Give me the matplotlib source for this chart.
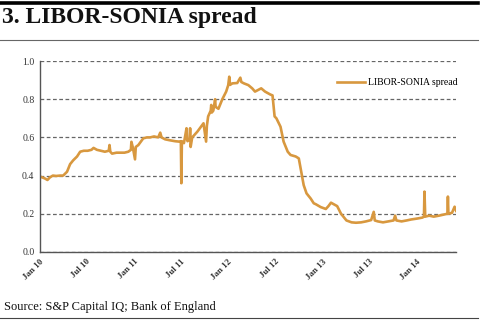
import matplotlib
matplotlib.use("Agg")
import matplotlib.pyplot as plt
from datetime import date

# LIBOR-SONIA spread, percentage points
dates = [
    "2010-01-01", "2010-01-10", "2010-01-20", "2010-01-30", "2010-02-08", "2010-02-20",
    "2010-03-05", "2010-03-20", "2010-04-01", "2010-04-16", "2010-04-28", "2010-05-10",
    "2010-05-25", "2010-06-06", "2010-06-20", "2010-07-05", "2010-07-20", "2010-07-28",
    "2010-08-10", "2010-08-25", "2010-09-10", "2010-09-25", "2010-09-28", "2010-10-01",
    "2010-10-08", "2010-10-25", "2010-11-10", "2010-11-25", "2010-12-10", "2010-12-20",
    "2010-12-22", "2010-12-28", "2011-01-05", "2011-01-08", "2011-01-18", "2011-02-06",
    "2011-02-20", "2011-03-05", "2011-03-20", "2011-04-05", "2011-04-13", "2011-04-18",
    "2011-05-02", "2011-05-20", "2011-06-10", "2011-06-25", "2011-07-02", "2011-07-04",
    "2011-07-06", "2011-07-14", "2011-07-24", "2011-07-26", "2011-07-28", "2011-08-05",
    "2011-08-07", "2011-08-09", "2011-08-15", "2011-09-04", "2011-09-28", "2011-10-08",
    "2011-10-11", "2011-10-16", "2011-10-26", "2011-10-28", "2011-10-30", "2011-11-05",
    "2011-11-12", "2011-11-14", "2011-11-25", "2011-12-10", "2011-12-25", "2012-01-02",
    "2012-01-06", "2012-01-09", "2012-01-18", "2012-02-06", "2012-02-18", "2012-02-22",
    "2012-03-03", "2012-03-20", "2012-04-04", "2012-04-15", "2012-05-09", "2012-05-24",
    "2012-06-13", "2012-06-22", "2012-06-30", "2012-07-07", "2012-07-23", "2012-08-04",
    "2012-08-20", "2012-08-31", "2012-09-20", "2012-10-02", "2012-10-09", "2012-10-21",
    "2012-11-01", "2012-11-17", "2012-11-29", "2012-12-07", "2012-12-26", "2013-01-15",
    "2013-01-25", "2013-02-04", "2013-02-15", "2013-02-28", "2013-03-15", "2013-04-05",
    "2013-04-25", "2013-05-12", "2013-06-01", "2013-06-20", "2013-07-10", "2013-07-20",
    "2013-07-24", "2013-08-05", "2013-08-25", "2013-09-15", "2013-10-05", "2013-10-11",
    "2013-10-16", "2013-11-05", "2013-11-25", "2013-12-12", "2014-01-05", "2014-01-25",
    "2014-01-31", "2014-02-02", "2014-02-05", "2014-02-20", "2014-03-10", "2014-03-30",
    "2014-04-15", "2014-05-02", "2014-05-04", "2014-05-06", "2014-05-20", "2014-05-30",
    "2014-06-05",
]
spread = [
    0.395, 0.390, 0.385, 0.377, 0.390, 0.400,
    0.398, 0.400, 0.400, 0.420, 0.460, 0.480,
    0.500, 0.525, 0.530, 0.530, 0.535, 0.545,
    0.535, 0.530, 0.525, 0.530, 0.560, 0.525,
    0.515, 0.520, 0.520, 0.520, 0.525, 0.535,
    0.577, 0.545, 0.485, 0.550, 0.560, 0.595,
    0.600, 0.600, 0.605, 0.600, 0.625, 0.600,
    0.590, 0.585, 0.580, 0.578, 0.580, 0.360,
    0.580, 0.570, 0.648, 0.590, 0.580, 0.590,
    0.648, 0.550, 0.600, 0.630, 0.674, 0.578,
    0.660, 0.710, 0.740, 0.770, 0.730, 0.740,
    0.800, 0.760, 0.750, 0.800, 0.840, 0.874,
    0.918, 0.875, 0.883, 0.885, 0.913, 0.890,
    0.883, 0.874, 0.857, 0.840, 0.857, 0.840,
    0.825, 0.820, 0.710, 0.700, 0.656, 0.578,
    0.525, 0.508, 0.500, 0.490, 0.438, 0.350,
    0.307, 0.280, 0.255, 0.250, 0.235, 0.225,
    0.240, 0.258, 0.250, 0.240, 0.200, 0.165,
    0.155, 0.153, 0.155, 0.160, 0.167, 0.210,
    0.165, 0.160, 0.155, 0.160, 0.165, 0.190,
    0.165, 0.160, 0.165, 0.170, 0.175, 0.180,
    0.185, 0.316, 0.185, 0.190, 0.185, 0.190,
    0.195, 0.200, 0.290, 0.200, 0.205, 0.237,
    0.215,
]
tick_dates = ["2010-01-01", "2010-07-01", "2011-01-01", "2011-07-01", "2012-01-01",
              "2012-07-01", "2013-01-01", "2013-07-01", "2014-01-01"]
tick_labels = ["Jan 10", "Jul 10", "Jan 11", "Jul 11", "Jan 12",
               "Jul 12", "Jan 13", "Jul 13", "Jan 14"]
y_ticks = [0.0, 0.2, 0.4, 0.6, 0.8, 1.0]

plt.rcParams['font.family'] = ['Liberation Serif', 'DejaVu Serif']

x = [date.fromisoformat(d) for d in dates]

fig = plt.figure(figsize=(4.8, 3.23), dpi=100)
ax = fig.add_axes([0.0833, 0.22, 0.867, 0.591])

ax.plot(x, spread, color='#d8983f', lw=1.9, label='LIBOR-SONIA spread',
        solid_joinstyle='round')

ax.set_ylim(0, 1.0)
ax.set_xlim(date(2010, 1, 1), date(2014, 6, 5))
ax.set_yticks(y_ticks)
ax.set_yticklabels([f"{v:.1f}" for v in y_ticks], fontsize=7, color='#333333')
ax.set_xticks([date.fromisoformat(d) for d in tick_dates])
ax.set_xticklabels(tick_labels, fontsize=6.5, color='#333333', rotation=45,
                   ha='right', va='top', rotation_mode='anchor', fontweight='bold')
ax.tick_params(length=0, pad=4)

ax.grid(axis='y', ls=(0, (3, 2)), color='#666666', lw=0.9)
ax.set_axisbelow(True)
for s in ['top', 'right']:
    ax.spines[s].set_visible(False)
for s in ['left', 'bottom']:
    ax.spines[s].set_color('#555555')
    ax.spines[s].set_linewidth(1.0)

ax.legend(loc='upper right', bbox_to_anchor=(1.025, 0.955), frameon=False, fontsize=7,
          handlelength=2.9, handletextpad=0.35)

# header rules, title and source line
fig.add_artist(plt.Line2D([0, 0.996], [0.991, 0.991], color='black', lw=2.6))
fig.add_artist(plt.Line2D([0, 0.996], [0.875, 0.875], color='#666666', lw=0.8))
fig.add_artist(plt.Line2D([0, 0.996], [0.014, 0.014], color='#444444', lw=0.8))
fig.text(0.004, 0.945, "3. LIBOR-SONIA spread", fontsize=17, fontweight='bold',
         va='center', ha='left', color='#111111')
fig.text(0.008, 0.048, "Source: S&P Capital IQ; Bank of England", fontsize=9,
         va='center', ha='left', color='#111111')

fig.savefig("out.png", dpi=100)
